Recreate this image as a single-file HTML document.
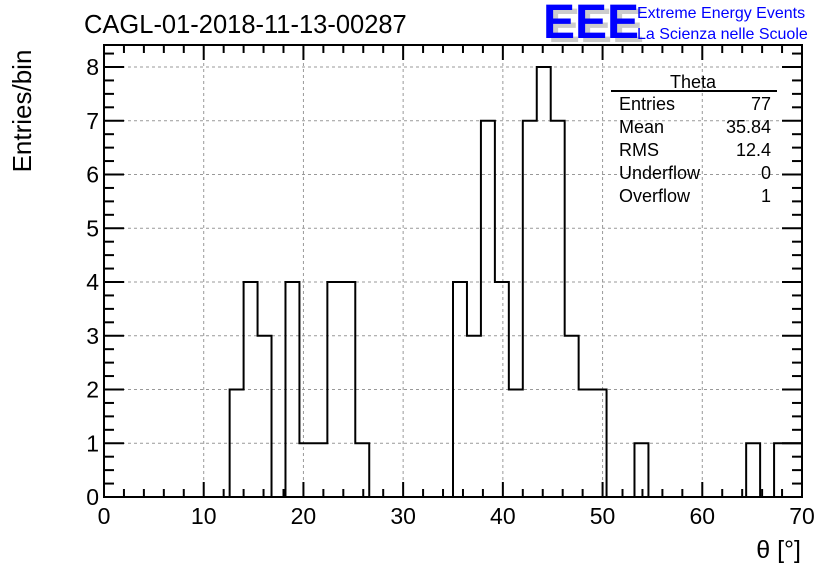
<!DOCTYPE html>
<html><head><meta charset="utf-8"><style>
body{margin:0;background:#fff;}
svg{display:block;font-family:"Liberation Sans",sans-serif;}
</style></head><body>
<svg id="c" width="836" height="572">
<text x="84" y="33" font-size="25.5">CAGL-01-2018-11-13-00287</text>
<g>
<text x="548" y="42" font-size="48" font-weight="bold" fill="#ccc">EEE</text>
<text x="543" y="38" font-size="48" font-weight="bold" fill="#0000ff">EEE</text>
<text x="637" y="18" font-size="16" fill="#0000ff">Extreme Energy Events</text>
<text x="637" y="39" font-size="16" fill="#0000ff">La Scienza nelle Scuole</text>
</g>
<g id="grid"></g><g id="hist"></g><g id="axes"></g>
<text x="31" y="111" font-size="26" transform="rotate(-90 31 111)" text-anchor="middle">Entries/bin</text>
<text x="801" y="558" font-size="25" text-anchor="end">θ [°]</text>
<g font-size="18">
<text x="693" y="88" text-anchor="middle">Theta</text>
<line x1="611" y1="91" x2="777" y2="91" stroke="#000" stroke-width="2"/>
<text x="619" y="110">Entries</text><text x="771" y="110" text-anchor="end">77</text>
<text x="619" y="133">Mean</text><text x="771" y="133" text-anchor="end">35.84</text>
<text x="619" y="156">RMS</text><text x="771" y="156" text-anchor="end">12.4</text>
<text x="619" y="179">Underflow</text><text x="771" y="179" text-anchor="end">0</text>
<text x="619" y="202">Overflow</text><text x="771" y="202" text-anchor="end">1</text>
</g>
</svg>
<script>
const counts=[0,0,0,0,0,0,0,0,0,2,4,3,0,4,1,1,4,4,1,0,0,0,0,0,0,4,3,7,4,2,7,8,7,3,2,2,0,0,1,0,0,0,0,0,0,0,1,0,1,1];
const xTicks=[0,10,20,30,40,50,60,70];
const yTicks=[0,1,2,3,4,5,6,7,8];
const xMin=0,xMax=70,yMin=0,yMax=8;
const L=104,R=802,T=45,B=497,Y8=67;
const NS="http://www.w3.org/2000/svg";
const X=v=>L+(v-xMin)/(xMax-xMin)*(R-L);
const Y=v=>B-(v-yMin)/(yMax-yMin)*(B-Y8);
function mk(p,t,a){const e=document.createElementNS(NS,t);for(const k in a)e.setAttribute(k,a[k]);p.appendChild(e);return e;}
const grid=document.getElementById('grid'),axes=document.getElementById('axes'),hist=document.getElementById('hist');
xTicks.forEach(v=>{if(v>xMin&&v<xMax){const g=mk(grid,'line',{x1:X(v),x2:X(v),y1:T,y2:B,stroke:'#999','stroke-dasharray':'3,3'});

}});
yTicks.forEach(v=>{if(v>yMin){const g=mk(grid,'line',{x1:L,x2:R,y1:Y(v),y2:Y(v),stroke:'#999','stroke-dasharray':'3,3'});

}});
const bw=(xMax-xMin)/counts.length;
let d='M'+X(0)+','+Y(0);
counts.forEach((c,i)=>{d+=' L'+X(i*bw)+','+Y(c)+' L'+X((i+1)*bw)+','+Y(c);});
d+=' L'+X(xMax)+','+Y(0);
const h=mk(hist,'path',{d:d,fill:'none',stroke:'#000','stroke-width':2});


const f=mk(axes,'rect',{x:L,y:T,width:R-L,height:B-T,fill:'none',stroke:'#000','stroke-width':2});


for(let v=xMin;v<=xMax;v+=2){const maj=v%10===0,len=maj?15:8;
mk(axes,'line',{x1:X(v),x2:X(v),y1:B,y2:B-len,stroke:'#000','stroke-width':2});
mk(axes,'line',{x1:X(v),x2:X(v),y1:T,y2:T+len,stroke:'#000','stroke-width':2});}
for(let v=yMin;v<=yMax+0.5;v+=0.25){if(Y(v)<T)continue;const maj=Math.abs(v-Math.round(v))<1e-6,len=maj?20:10;
mk(axes,'line',{x1:L,x2:L+len,y1:Y(v),y2:Y(v),stroke:'#000','stroke-width':2});
mk(axes,'line',{x1:R,x2:R-len,y1:Y(v),y2:Y(v),stroke:'#000','stroke-width':2});}
xTicks.forEach(v=>{const t=mk(axes,'text',{x:X(v),y:B+27,'font-size':23,'text-anchor':'middle'});t.textContent=v;

});
yTicks.forEach(v=>{const t=mk(axes,'text',{x:L-5,y:Y(v)+8,'font-size':23,'text-anchor':'end'});t.textContent=v;

});
</script>
</body></html>
